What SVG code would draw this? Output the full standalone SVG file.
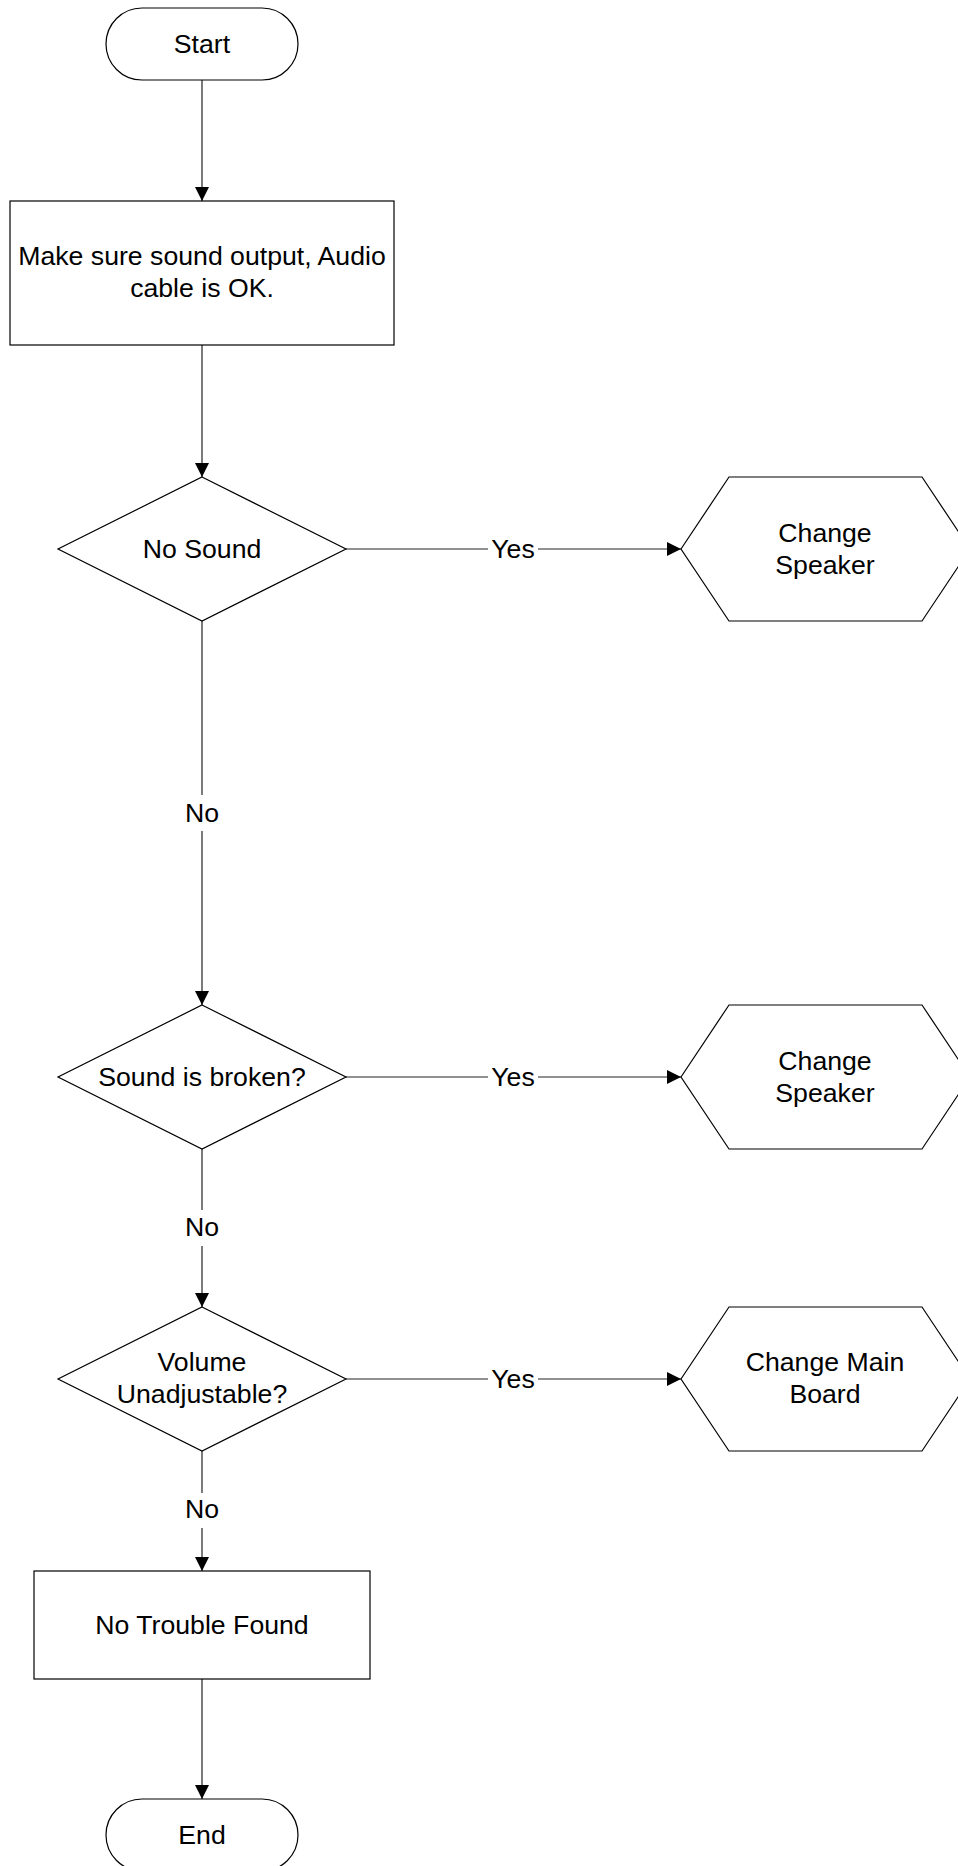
<svg xmlns="http://www.w3.org/2000/svg" width="958" height="1866" viewBox="0 0 958 1866">
<style>
.s{fill:#fff;stroke:#000;stroke-width:1.2}
.t{font-family:"Liberation Sans",Arial,sans-serif;font-size:26.67px;fill:#000;text-anchor:middle}
.c{fill:none;stroke:#222;stroke-width:1.2}
.bg{fill:#fff}
</style>
<defs>
<marker id="ah" markerUnits="userSpaceOnUse" markerWidth="14" markerHeight="14" refX="14" refY="7" orient="auto">
<path d="M0,0 L14,7 L0,14 Z" fill="#000"/>
</marker>
</defs>
<rect width="958" height="1866" fill="#fff"/>
<g id="connectors">
<line class="c" x1="202" y1="80" x2="202" y2="201" marker-end="url(#ah)"/>
<line class="c" x1="202" y1="345" x2="202" y2="477" marker-end="url(#ah)"/>
<line class="c" x1="346" y1="549" x2="681" y2="549" marker-end="url(#ah)"/>
<rect class="bg" x="488" y="530" width="50" height="36"/>
<text class="t" x="513" y="558">Yes</text>
<line class="c" x1="202" y1="621" x2="202" y2="1005" marker-end="url(#ah)"/>
<rect class="bg" x="180" y="795" width="44" height="36"/>
<text class="t" x="202" y="822">No</text>
<line class="c" x1="346" y1="1077" x2="681" y2="1077" marker-end="url(#ah)"/>
<rect class="bg" x="488" y="1058" width="50" height="36"/>
<text class="t" x="513" y="1086">Yes</text>
<line class="c" x1="202" y1="1149" x2="202" y2="1307" marker-end="url(#ah)"/>
<rect class="bg" x="180" y="1210" width="44" height="36"/>
<text class="t" x="202" y="1236">No</text>
<line class="c" x1="346" y1="1379" x2="681" y2="1379" marker-end="url(#ah)"/>
<rect class="bg" x="488" y="1360" width="50" height="36"/>
<text class="t" x="513" y="1388">Yes</text>
<line class="c" x1="202" y1="1451" x2="202" y2="1571" marker-end="url(#ah)"/>
<rect class="bg" x="180" y="1493" width="44" height="35"/>
<text class="t" x="202" y="1518">No</text>
<line class="c" x1="202" y1="1679" x2="202" y2="1799" marker-end="url(#ah)"/>
</g>
<g id="start">
<rect class="s" x="106" y="8" width="192" height="72" rx="36" ry="36"/>
<text class="t" x="202" y="53">Start</text>
</g>
<g id="check-output">
<rect class="s" x="10" y="201" width="384" height="144"/>
<text class="t" x="202" y="265">Make sure sound output, Audio</text>
<text class="t" x="202" y="297">cable is OK.</text>
</g>
<g id="no-sound">
<polygon class="s" points="202,477 346,549 202,621 58,549"/>
<text class="t" x="202" y="558">No Sound</text>
</g>
<g id="change-speaker-1">
<polygon class="s" points="681,549 729,477 922,477 970,549 922,621 729,621"/>
<text class="t" x="825" y="542">Change</text>
<text class="t" x="825" y="574">Speaker</text>
</g>
<g id="sound-broken">
<polygon class="s" points="202,1005 346,1077 202,1149 58,1077"/>
<text class="t" x="202" y="1086">Sound is broken?</text>
</g>
<g id="change-speaker-2">
<polygon class="s" points="681,1077 729,1005 922,1005 970,1077 922,1149 729,1149"/>
<text class="t" x="825" y="1070">Change</text>
<text class="t" x="825" y="1102">Speaker</text>
</g>
<g id="volume">
<polygon class="s" points="202,1307 346,1379 202,1451 58,1379"/>
<text class="t" x="202" y="1371">Volume</text>
<text class="t" x="202" y="1403">Unadjustable?</text>
</g>
<g id="change-main-board">
<polygon class="s" points="681,1379 729,1307 922,1307 970,1379 922,1451 729,1451"/>
<text class="t" x="825" y="1371">Change Main</text>
<text class="t" x="825" y="1403">Board</text>
</g>
<g id="no-trouble">
<rect class="s" x="34" y="1571" width="336" height="108"/>
<text class="t" x="202" y="1634">No Trouble Found</text>
</g>
<g id="end">
<rect class="s" x="106" y="1799" width="192" height="72" rx="36" ry="36"/>
<text class="t" x="202" y="1844">End</text>
</g>
</svg>
